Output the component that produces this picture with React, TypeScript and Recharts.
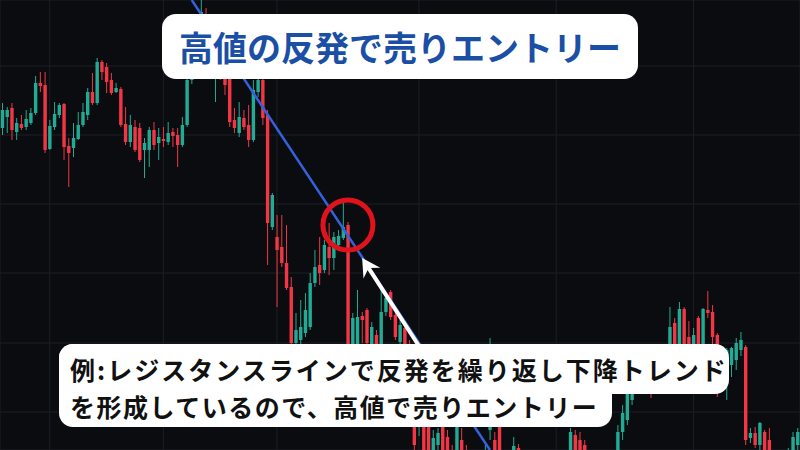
import { Bar, BarChart, CartesianGrid, ReferenceDot, ReferenceLine, XAxis, YAxis } from "recharts";

const W = 800;
const H = 450;
const BG = "#0b0c10";
const UP = "#22ab94";
const DOWN = "#f23645";
const FONT = "'Noto Sans CJK JP', 'Noto Sans', sans-serif";

// 価格はチャート下端を0とした値（読み取り値）
const opens = [
  322, 333, 342, 318, 326, 323, 327, 337, 367, 365,
  301, 323, 335, 346, 304, 302, 311, 325, 335, 358,
  347, 388, 383, 370, 358, 361, 326, 308, 323, 322,
  300, 300, 320, 307, 311, 308, 318, 315, 305, 325,
  370, 388, 415, 436, 412, 380, 405, 388, 378, 330,
  317, 332, 325, 310, 358, 370, 335, 223, 213, 203,
  187, 163, 107, 110, 117, 123, 167, 185, 180, 203,
  192, 205, 212, 225, 78, 105, 134, 140, 105, 115,
  105, 138, 158, 135, 108, 122, 105, 70, 25, 40,
  25, -12, 5, 25, 13, -5, -20, 10, -5, -30,
  -12, -40, -18, 20, 10, 25, -25, -5, -20, 2,
  -2, -18, -34, -22, -40, -28, -16, -20, -12, -4,
  -8, 15, 10, 5, -20, -12, -5, -18, -10, -20,
  -5, 18, 30, 50, 72, 88, 72, 90, 68, 88,
  85, 100, 127, 102, 141, 113, 98, 132, 105, 140,
  138, 115, 72, 78, 85, 90, 100, 103, 12, 17,
  5, 18, 10, -15, -2, -20, -10, -8, 5,
];

const highs = [
  347, 343, 347, 332, 335, 340, 342, 374, 378, 378,
  330, 348, 347, 347, 312, 327, 338, 347, 362, 377,
  392, 390, 387, 377, 367, 363, 343, 335, 330, 327,
  312, 323, 328, 322, 323, 328, 322, 322, 333, 380,
  395, 420, 452, 442, 420, 410, 412, 395, 390, 342,
  348, 340, 345, 370, 375, 378, 340, 257, 235, 235,
  225, 173, 137, 150, 157, 177, 200, 213, 210, 227,
  218, 220, 250, 228, 137, 160, 138, 142, 128, 120,
  160, 154, 160, 140, 130, 125, 110, 80, 50, 50,
  30, 20, 22, 30, 20, 5, 27, 22, 5, -2,
  -5, -8, 5, 112, 18, 35, 0, -2, 13, 6,
  0, -10, -15, -16, -20, -10, -8, -5, -1, -1,
  22, 20, 18, 10, -2, -1, -2, -1, -1, 0,
  25, 45, 60, 85, 95, 95, 100, 98, 105, 105,
  106, 143, 132, 148, 143, 129, 122, 134, 142, 159,
  145, 117, 95, 102, 103, 112, 118, 105, 22, 23,
  28, 20, 22, -2, 0, -5, 2, 18, 22,
];

const lows = [
  315, 317, 310, 310, 320, 320, 325, 335, 358, 297,
  300, 320, 332, 290, 263, 293, 310, 323, 330, 345,
  345, 370, 357, 355, 357, 323, 305, 303, 298, 288,
  272, 283, 300, 290, 303, 305, 303, 283, 303, 323,
  366, 384, 412, 402, 388, 348, 370, 355, 323, 317,
  313, 320, 303, 308, 353, 325, 185, 220, 143, 183,
  160, 100, 105, 105, 113, 120, 163, 165, 177, 175,
  180, 203, 210, 65, 72, 100, 107, 100, 100, 95,
  100, 134, 130, 110, 105, 90, 40, 0, 14, -5,
  -10, -20, -2, -15, -20, -30, -25, -30, -40, -40,
  -45, -45, -25, 10, -30, -20, -30, -35, -25, -30,
  -28, -42, -45, -48, -50, -35, -32, -30, -20, -22,
  -12, -10, -15, -20, -25, -18, -20, -20, -12, -25,
  -8, 10, 25, 45, 67, 66, 65, 52, 63, 82,
  80, 95, 95, 98, 95, 90, 92, 100, 100, 132,
  105, 53, 58, 50, 73, 80, 94, 5, 7, 2,
  0, -10, -12, -20, -16, -25, -15, -12, -2,
];

const closes = [
  340, 340, 320, 327, 322, 331, 337, 367, 364, 300,
  324, 336, 345, 303, 297, 312, 325, 338, 358, 347,
  388, 378, 368, 357, 362, 325, 308, 325, 300, 290,
  307, 320, 305, 313, 309, 317, 314, 305, 325, 370,
  388, 415, 438, 410, 395, 405, 378, 365, 328, 322,
  333, 323, 310, 360, 370, 332, 227, 255, 200, 187,
  162, 107, 120, 123, 140, 167, 183, 177, 205, 192,
  213, 214, 223, 80, 132, 133, 130, 107, 123, 105,
  138, 152, 133, 113, 125, 100, 60, 5, 45, 0,
  -5, 12, 17, -10, -15, -20, 25, -20, -30, -10,
  -40, -15, 0, 55, -20, -15, -5, -30, 4, -20,
  -20, -35, -20, -40, -25, -15, -25, -8, -2, -18,
  18, -5, -10, -12, -5, -2, -15, -2, -2, -2,
  18, 37, 57, 78, 90, 70, 95, 65, 100, 102,
  105, 123, 100, 141, 102, 95, 115, 105, 141, 137,
  113, 75, 90, 100, 102, 107, 110, 10, 17, 5,
  27, -5, -5, -5, -12, -8, 0, 13, 18,
];

// グリッド位置（ローソク足番号・価格）
const timeTicks = [10, 34, 58, 88, 117, 146];
const priceTicks = [38, 107, 177, 246, 315, 384];

// レジスタンスライン・注目点・矢印
const trendLine = [
  { x: 40, y: 450 },
  { x: 103, y: 0 },
];
const focus = { x: 73, y: 225 };
const arrow = [
  { x: 88, y: 104 },
  { x: 76, y: 192 },
];

const title = "高値の反発で売りエントリー";
const noteLines = [
  "例:レジスタンスラインで反発を繰り返し下降トレンド",
  "を形成しているので、高値で売りエントリー",
];

const data = opens.map((o, i) => ({
  i,
  o,
  h: highs[i],
  l: lows[i],
  c: closes[i],
}));

function Candle(props: any) {
  const { x, y, width, height, payload } = props;
  const { o, h, l, c } = payload;
  const k = height / (h - l);
  const py = (v: number) => y + (h - v) * k;
  const color = c >= o ? UP : DOWN;
  const cx = x + width / 2;
  const top = py(Math.max(o, c));
  const bodyH = Math.max(1, py(Math.min(o, c)) - top);
  const bw = width * 0.68;
  return (
    <g>
      <line x1={cx} x2={cx} y1={y} y2={y + height} stroke={color} strokeWidth={1} />
      <rect x={cx - bw / 2} y={top} width={bw} height={bodyH} fill={color} />
    </g>
  );
}

function ArrowShape(p: any) {
  const { x1, y1, x2, y2 } = p;
  const tip = y1 < y2 ? { x: x1, y: y1 } : { x: x2, y: y2 };
  const tail = y1 < y2 ? { x: x2, y: y2 } : { x: x1, y: y1 };
  const len = Math.hypot(tip.x - tail.x, tip.y - tail.y);
  const ux = (tip.x - tail.x) / len;
  const uy = (tip.y - tail.y) / len;
  const nx = -uy;
  const ny = ux;
  const base = { x: tip.x - ux * 18, y: tip.y - uy * 18 };
  const notch = { x: tip.x - ux * 12, y: tip.y - uy * 12 };
  const pts = [
    [tip.x, tip.y],
    [base.x + nx * 10, base.y + ny * 10],
    [notch.x, notch.y],
    [base.x - nx * 10, base.y - ny * 10],
  ]
    .map((q) => q.join(","))
    .join(" ");
  return (
    <g>
      <line x1={tail.x} y1={tail.y} x2={notch.x} y2={notch.y} stroke="#fff" strokeWidth={4} />
      <polygon points={pts} fill="#fff" />
    </g>
  );
}

export default function App() {
  return (
    <div
      style={{
        position: "absolute",
        left: 0,
        top: 0,
        width: W,
        height: H,
        background: BG,
        overflow: "hidden",
      }}
    >
      <BarChart
        width={W}
        height={H}
        data={data}
        margin={{ top: 0, right: 0, bottom: 0, left: 0 }}
        barCategoryGap={0}
      >
        <CartesianGrid stroke="#1c1f26" strokeWidth={1} />
        <XAxis dataKey="i" type="category" hide ticks={timeTicks} interval={0} />
        <YAxis type="number" hide domain={[0, 450]} allowDataOverflow ticks={priceTicks} />
        <Bar
          dataKey={(d: any) => [d.l, d.h]}
          shape={<Candle />}
          isAnimationActive={false}
        />
        <ReferenceLine
          segment={trendLine}
          stroke="#3262dc"
          strokeWidth={2.5}
          ifOverflow="visible"
        />
        <ReferenceDot
          x={focus.x}
          y={focus.y}
          r={25}
          fill="none"
          stroke="#e0121b"
          strokeWidth={5}
          ifOverflow="visible"
        />
        <ReferenceLine segment={arrow} shape={ArrowShape} ifOverflow="visible" />
      </BarChart>

      <div
        style={{
          position: "absolute",
          left: 162,
          top: 14,
          width: 476,
          height: 65,
          background: "#fff",
          borderRadius: 14,
          display: "flex",
          alignItems: "center",
          justifyContent: "center",
          fontFamily: FONT,
          fontWeight: 700,
          fontSize: 34,
          color: "#1b4fa5",
        }}
      >
        {title}
      </div>

      <div
        style={{
          position: "absolute",
          left: 59,
          top: 344,
          width: 670,
          height: 50,
          background: "#fff",
          borderRadius: 14,
        }}
      />
      <div
        style={{
          position: "absolute",
          left: 59,
          top: 344,
          width: 553,
          height: 83,
          background: "#fff",
          borderRadius: 14,
        }}
      />
      {noteLines.map((t, k) => (
        <div
          key={k}
          style={{
            position: "absolute",
            left: 70,
            top: 351 + k * 37,
            lineHeight: "37px",
            fontFamily: FONT,
            fontWeight: 700,
            fontSize: 25,
            letterSpacing: k === 0 ? 2 : 1.5,
            color: "#111",
            whiteSpace: "nowrap",
          }}
        >
          {t}
        </div>
      ))}
    </div>
  );
}
